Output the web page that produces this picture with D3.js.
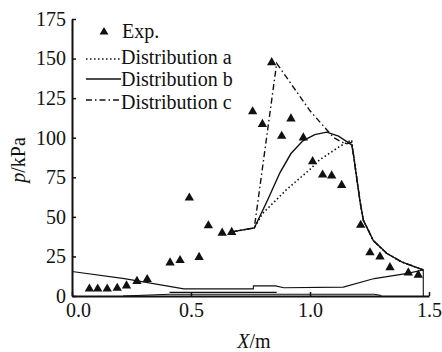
<!DOCTYPE html>
<html>
<head>
<meta charset="utf-8">
<script src="https://cdn.jsdelivr.net/npm/d3@7"></script>
<style>
  body { margin: 0; background: #fff; }
</style>
</head>
<body>
<div id="chart"></div>
<script>
let serif = "'Liberation Serif', 'Times New Roman', serif";

// measured points (X in m, p in kPa)
let expX = [0.073, 0.108, 0.148, 0.19, 0.229, 0.273, 0.316, 0.412, 0.454, 0.493, 0.534, 0.573, 0.631, 0.671,
            0.759, 0.80, 0.839, 0.881, 0.92, 0.972, 1.011, 1.053, 1.091, 1.133, 1.213, 1.252, 1.294, 1.336, 1.413, 1.455];
let expP = [4.5, 4.5, 4.5, 5, 6.5, 9.3, 10.5, 21, 22.5, 62, 24.5, 44.5, 39.8, 40.3,
            116.5, 108.5, 147.5, 101, 112, 100, 85, 76.5, 76, 70, 44.8, 27.4, 24.8, 18, 14.7, 13.3];

// computed distributions
let distAX = [0.671, 0.766, 0.80, 0.90, 1.00, 1.04, 1.13, 1.175, 1.182, 1.196, 1.21, 1.224, 1.266, 1.322, 1.385, 1.43, 1.476];
let distAP = [40.5, 43, 52, 67, 80, 86, 95, 98.5, 90, 75, 60, 48, 35, 27, 21.5, 19, 16.5];
let distBX = [0.671, 0.766, 0.82, 0.874, 0.92, 0.97, 1.02, 1.07, 1.12, 1.175, 1.182, 1.196, 1.21, 1.224, 1.266, 1.322, 1.385, 1.43, 1.476];
let distBP = [40.5, 43, 60, 78, 90, 98, 102, 103.5, 101, 95.5, 90, 75, 60, 48, 35, 27, 21.5, 19, 16.5];
let distCX = [0.671, 0.766, 0.86, 1.0, 1.1, 1.15, 1.175, 1.182, 1.196, 1.21, 1.224, 1.266, 1.322, 1.385, 1.43, 1.476];
let distCP = [40.5, 43, 147, 117, 100, 96, 97, 90, 75, 60, 48, 35, 27, 21.5, 19, 16.5];

// outline of the structure drawn along the bottom
let structTopX = [0, 0.22, 0.47, 0.762, 0.762, 0.855, 0.89, 1.14, 1.27, 1.41, 1.476, 1.476];
let structTopP = [15.5, 11, 4.5, 4.5, 6.4, 6.4, 5.2, 5.6, 11, 14.3, 16.4, 0];
let structMidX = [0.41, 0.86];
let structMidP = [2.3, 2.3];
let structLowX = [0.214, 0.41, 1.27, 1.3];
let structLowP = [0, 1.1, 1.1, 0.3];

let xTicks = [0, 0.5, 1.0, 1.5];
let yTicks = [0, 25, 50, 75, 100, 125, 150, 175];

let legendNames = ["Distribution a", "Distribution b", "Distribution c"];
let legendDash = ["1.5,2.5", null, "6,3,1.5,3"];

function getConfig() {
  let width = 442;
  let height = 352;
  let margin = { top: 19, left: 72, right: 13, bottom: 56 };
  let bodyWidth = width - margin.left - margin.right;
  let bodyHeight = height - margin.top - margin.bottom;
  let container = d3.select("#chart").append("svg")
    .attr("width", width)
    .attr("height", height)
    .attr("font-family", serif);
  return { width, height, margin, bodyWidth, bodyHeight, container };
}

function getScales(config) {
  let xScale = d3.scaleLinear().domain([0, 1.5]).range([0, config.bodyWidth]);
  let yScale = d3.scaleLinear().domain([0, 175]).range([config.bodyHeight, 0]);
  return { xScale, yScale };
}

function drawAxes(config, scales) {
  let { margin, container, bodyHeight } = config;
  let { xScale, yScale } = scales;

  let xAxis = container.append("g")
    .attr("transform", "translate(" + margin.left + "," + (margin.top + bodyHeight) + ")")
    .call(d3.axisBottom(xScale).tickValues(xTicks).tickFormat(d3.format(".1f"))
      .tickSizeInner(-4).tickSizeOuter(0).tickPadding(7));
  let yAxis = container.append("g")
    .attr("transform", "translate(" + margin.left + "," + margin.top + ")")
    .call(d3.axisLeft(yScale).tickValues(yTicks)
      .tickSizeInner(-4).tickSizeOuter(0).tickPadding(6));

  [xAxis, yAxis].forEach(a => {
    a.attr("font-family", serif).attr("font-size", 20);
    a.select(".domain").attr("stroke", "#111").attr("stroke-width", 2);
    a.selectAll(".tick line").attr("stroke", "#111").attr("stroke-width", 1.5);
    a.selectAll("text").attr("fill", "#111");
  });
  // the 0.0 label sits a little right of its tick, clear of the y "0"
  xAxis.selectAll(".tick text").filter(d => d == 0).attr("x", 6);

  // axis titles
  let xt = container.append("text")
    .attr("x", 254).attr("y", 348)
    .attr("text-anchor", "middle")
    .attr("font-size", 20).attr("fill", "#111");
  xt.append("tspan").attr("font-style", "italic").text("X");
  xt.append("tspan").text("/m");

  let yt = container.append("text")
    .attr("transform", "translate(25,160) rotate(-90)")
    .attr("text-anchor", "middle")
    .attr("font-size", 20).attr("fill", "#111");
  yt.append("tspan").attr("font-style", "italic").text("p");
  yt.append("tspan").text("/kPa");
}

function drawLines(config, scales) {
  let { margin, container } = config;
  let { xScale, yScale } = scales;
  let body = container.append("g")
    .attr("transform", "translate(" + margin.left + "," + margin.top + ")");

  let line = d3.line().x(d => xScale(d[0])).y(d => yScale(d[1]));
  let zip = (xs, ys) => xs.map((x, i) => [x, ys[i]]);

  let structs = [[structTopX, structTopP], [structMidX, structMidP], [structLowX, structLowP]];
  structs.forEach(s => {
    body.append("path")
      .attr("d", line(zip(s[0], s[1])))
      .attr("fill", "none").attr("stroke", "#111").attr("stroke-width", 1.1);
  });

  let dists = [[distAX, distAP], [distBX, distBP], [distCX, distCP]];
  dists.forEach((s, i) => {
    body.append("path")
      .attr("d", line(zip(s[0], s[1])))
      .attr("fill", "none").attr("stroke", "#111")
      .attr("stroke-width", i == 0 ? 1.6 : 1.4)
      .attr("stroke-dasharray", legendDash[i]);
  });

  let tri = d3.symbol().type(d3.symbolTriangle).size(38);
  body.selectAll(".exp")
    .data(zip(expX, expP))
    .enter()
    .append("path")
    .attr("class", "exp")
    .attr("d", tri)
    .attr("transform", d => "translate(" + xScale(d[0]) + "," + yScale(d[1]) + ")")
    .attr("fill", "#111");
}

function drawLegend(config) {
  let { container } = config;
  let g = container.append("g").attr("font-size", 20).attr("fill", "#111");
  g.append("path")
    .attr("d", d3.symbol().type(d3.symbolTriangle).size(34)())
    .attr("transform", "translate(104,32)")
    .attr("fill", "#111");
  g.append("text").attr("x", 122).attr("y", 38).text("Exp.");

  let lineY = [59, 79, 100];
  let textY = [64, 86, 109];
  legendNames.forEach((name, i) => {
    g.append("line")
      .attr("x1", 86).attr("x2", 121)
      .attr("y1", lineY[i]).attr("y2", lineY[i])
      .attr("stroke", "#111").attr("stroke-width", i == 0 ? 1.6 : 1.4)
      .attr("stroke-dasharray", legendDash[i]);
    g.append("text").attr("x", 121).attr("y", textY[i]).text(name);
  });
}

let config = getConfig();
let scales = getScales(config);
drawLines(config, scales);
drawAxes(config, scales);
drawLegend(config);
</script>
</body>
</html>
